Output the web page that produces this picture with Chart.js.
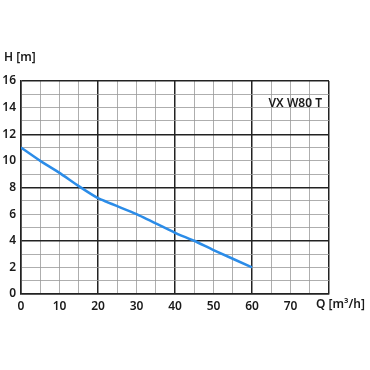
<!DOCTYPE html>
<html>
<head>
<meta charset="utf-8">
<script src="https://cdn.jsdelivr.net/npm/chart.js@4"></script>
<style>
  body { margin: 0; background: #fff; }
  #wrap { width: 370px; height: 370px; }
</style>
</head>
<body>
<div id="wrap"><canvas id="pumpChart" width="370" height="370"></canvas></div>
<script>
// Pump curve VX W80 T
const flowQ = [0, 5, 10, 15, 20, 30, 40, 45, 50, 60];           // m3/h
const headH = [11.0, 10.0, 9.1, 8.1, 7.2, 6.0, 4.6, 4.0, 3.3, 2.0]; // m
const xTickLabels = [0, 10, 20, 30, 40, 50, 60, 70];
const yTickLabels = [0, 2, 4, 6, 8, 10, 12, 14, 16];
const modelName = 'VX W80 T';
const xTitle = 'Q [m³/h]';
const yTitle = 'H [m]';

const font = { family: 'Noto Sans', size: 12, weight: '600' };
const textColor = '#1a1a1a';

// extra labels: axis units and model name
const labelsPlugin = {
    id: 'labels',
    afterDraw(chart) {
        const c = chart.ctx;
        const area = chart.chartArea;
        c.save();
        c.fillStyle = textColor;
        c.font = '600 12px "Noto Sans"';
        c.textBaseline = 'middle';
        c.textAlign = 'left';
        c.fillText(yTitle, 4, 58);
        c.fillText(xTitle, area.right - 13, 305);
        c.textAlign = 'right';
        c.fillText(modelName, area.right - 7, 104);
        c.restore();
    }
};

const ctx = document.getElementById('pumpChart').getContext('2d');
new Chart(ctx, {
    type: 'line',
    data: {
        datasets: [{
            data: flowQ.map((q, i) => ({ x: q, y: headH[i] })),
            borderColor: '#2b8ce8',
            borderWidth: 2.5,
            pointRadius: 0,
            tension: 0.15,
            fill: false
        }]
    },
    options: {
        responsive: false,
        animation: false,
        layout: { padding: { top: 81, right: 41, left: 0, bottom: 0 } },
        plugins: { legend: { display: false }, tooltip: { enabled: false } },
        scales: {
            x: {
                type: 'linear',
                min: 0,
                max: 80,
                afterFit(s) { s.height = 76; },
                border: { color: '#222', width: 1.5 },
                grid: {
                    drawTicks: false,
                    color: t => (t.tick.value % 20 === 0 ? '#222' : '#999'),
                    lineWidth: t => (t.tick.value % 20 === 0 ? 1.5 : 0.8)
                },
                ticks: {
                    stepSize: 5,
                    autoSkip: false,
                    maxRotation: 0,
                    padding: 5,
                    color: textColor,
                    font: font,
                    callback: v => (xTickLabels.includes(v) ? String(v) : '')
                }
            },
            y: {
                min: 0,
                max: 16,
                afterFit(s) { s.width = 21; },
                border: { color: '#222', width: 1.5 },
                grid: {
                    drawTicks: false,
                    color: t => (t.tick.value % 4 === 0 ? '#222' : '#999'),
                    lineWidth: t => (t.tick.value % 4 === 0 ? 1.5 : 0.8)
                },
                ticks: {
                    stepSize: 1,
                    autoSkip: false,
                    padding: 5,
                    color: textColor,
                    font: font,
                    callback: v => (yTickLabels.includes(v) ? String(v) : '')
                }
            }
        }
    },
    plugins: [labelsPlugin]
});
</script>
</body>
</html>
